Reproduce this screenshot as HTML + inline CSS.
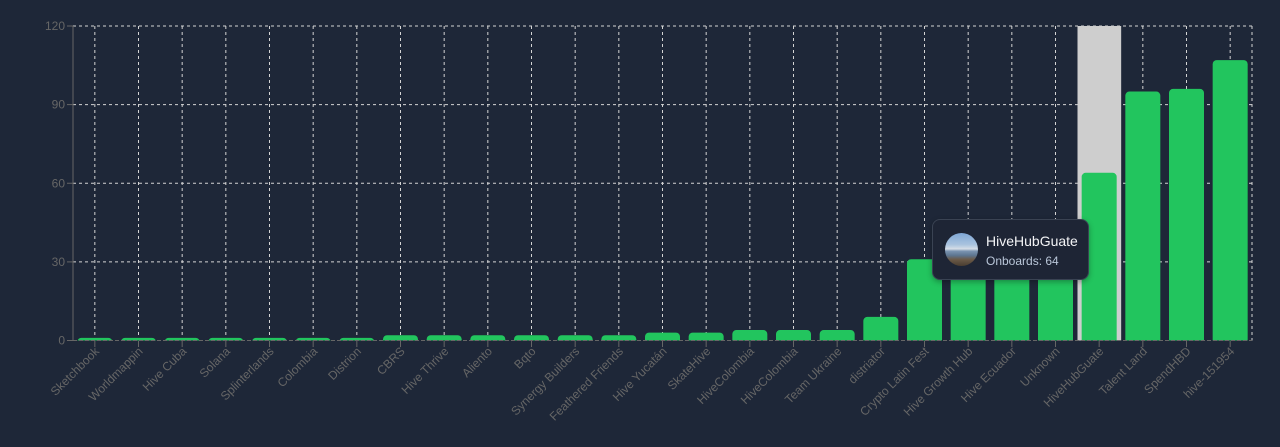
<!DOCTYPE html>
<html><head><meta charset="utf-8">
<style>
html,body{margin:0;padding:0;background:#1e2738;}
body{width:1280px;height:447px;position:relative;overflow:hidden;font-family:"Liberation Sans",sans-serif;}
svg{position:absolute;left:0;top:0;}
.tip{position:absolute;left:932px;top:219px;width:155px;height:59px;background:#1e2535;border:1px solid #3a4353;border-radius:8px;box-shadow:0 2px 6px rgba(0,0,0,0.3);}
.av{position:absolute;left:12px;top:13px;width:33px;height:33px;border-radius:50%;background:linear-gradient(180deg,#7fa7d6 0%,#a9c3de 35%,#d5dde6 48%,#7a93b0 55%,#5d7590 68%,#6b5a48 80%,#4a3d30 100%);}
.t1{position:absolute;left:53px;top:13px;color:#f3f4f6;font-size:14px;line-height:16px;}
.t2{position:absolute;left:53px;top:34px;color:#b9c6d8;font-size:12px;line-height:14px;}
</style></head><body>
<svg width="1280" height="447" viewBox="0 0 1280 447">
<defs><clipPath id="pc"><rect x="73" y="0" width="1180" height="340.5"/></clipPath></defs>
<g stroke="#d4d4d4" stroke-dasharray="3 3" stroke-width="1" fill="none">
<line x1="73" y1="26" x2="1252" y2="26"/>
<line x1="73" y1="104.6" x2="1252" y2="104.6"/>
<line x1="73" y1="183.25" x2="1252" y2="183.25"/>
<line x1="73" y1="261.9" x2="1252" y2="261.9"/>
<line x1="73" y1="340.5" x2="1252" y2="340.5"/>
<line x1="94.83" y1="26" x2="94.83" y2="340.5"/><line x1="138.5" y1="26" x2="138.5" y2="340.5"/><line x1="182.17" y1="26" x2="182.17" y2="340.5"/><line x1="225.83" y1="26" x2="225.83" y2="340.5"/><line x1="269.5" y1="26" x2="269.5" y2="340.5"/><line x1="313.17" y1="26" x2="313.17" y2="340.5"/><line x1="356.83" y1="26" x2="356.83" y2="340.5"/><line x1="400.5" y1="26" x2="400.5" y2="340.5"/><line x1="444.17" y1="26" x2="444.17" y2="340.5"/><line x1="487.83" y1="26" x2="487.83" y2="340.5"/><line x1="531.5" y1="26" x2="531.5" y2="340.5"/><line x1="575.17" y1="26" x2="575.17" y2="340.5"/><line x1="618.83" y1="26" x2="618.83" y2="340.5"/><line x1="662.5" y1="26" x2="662.5" y2="340.5"/><line x1="706.17" y1="26" x2="706.17" y2="340.5"/><line x1="749.83" y1="26" x2="749.83" y2="340.5"/><line x1="793.5" y1="26" x2="793.5" y2="340.5"/><line x1="837.17" y1="26" x2="837.17" y2="340.5"/><line x1="880.83" y1="26" x2="880.83" y2="340.5"/><line x1="924.5" y1="26" x2="924.5" y2="340.5"/><line x1="968.17" y1="26" x2="968.17" y2="340.5"/><line x1="1011.83" y1="26" x2="1011.83" y2="340.5"/><line x1="1055.5" y1="26" x2="1055.5" y2="340.5"/><line x1="1099.17" y1="26" x2="1099.17" y2="340.5"/><line x1="1142.83" y1="26" x2="1142.83" y2="340.5"/><line x1="1186.5" y1="26" x2="1186.5" y2="340.5"/><line x1="1230.17" y1="26" x2="1230.17" y2="340.5"/>
<line x1="1252" y1="26" x2="1252" y2="340.5"/>
</g>
<rect x="1077.5" y="26" width="43.67" height="314.5" fill="#cecece"/>
<g fill="#22c55e" clip-path="url(#pc)">
<rect x="77.33" y="337.88" width="35" height="10" rx="4"/>
<rect x="121" y="337.88" width="35" height="10" rx="4"/>
<rect x="164.67" y="337.88" width="35" height="10" rx="4"/>
<rect x="208.33" y="337.88" width="35" height="10" rx="4"/>
<rect x="252" y="337.88" width="35" height="10" rx="4"/>
<rect x="295.67" y="337.88" width="35" height="10" rx="4"/>
<rect x="339.33" y="337.88" width="35" height="10" rx="4"/>
<rect x="383" y="335.26" width="35" height="12" rx="4"/>
<rect x="426.67" y="335.26" width="35" height="12" rx="4"/>
<rect x="470.33" y="335.26" width="35" height="12" rx="4"/>
<rect x="514" y="335.26" width="35" height="12" rx="4"/>
<rect x="557.67" y="335.26" width="35" height="12" rx="4"/>
<rect x="601.33" y="335.26" width="35" height="12" rx="4"/>
<rect x="645" y="332.64" width="35" height="14" rx="4"/>
<rect x="688.67" y="332.64" width="35" height="14" rx="4"/>
<rect x="732.33" y="330.02" width="35" height="16" rx="4"/>
<rect x="776" y="330.02" width="35" height="16" rx="4"/>
<rect x="819.67" y="330.02" width="35" height="16" rx="4"/>
<rect x="863.33" y="316.91" width="35" height="30" rx="4"/>
<rect x="907" y="259.25" width="35" height="90" rx="4"/>
<rect x="950.67" y="251.4" width="35" height="95" rx="4"/>
<rect x="994.33" y="246.15" width="35" height="100" rx="4"/>
<rect x="1038" y="235.67" width="35" height="110" rx="4"/>
<rect x="1081.67" y="172.77" width="35" height="175" rx="4"/>
<rect x="1125.33" y="91.52" width="35" height="255" rx="4"/>
<rect x="1169" y="88.9" width="35" height="257" rx="4"/>
<rect x="1212.67" y="60.07" width="35" height="286" rx="4"/>
</g>
<g stroke="#666" stroke-width="1">
<line x1="73" y1="26" x2="73" y2="340.5"/>
<line x1="73" y1="340.5" x2="1252" y2="340.5" stroke-dasharray="4 2"/>
<line x1="67" y1="26" x2="73" y2="26"/><line x1="67" y1="104.6" x2="73" y2="104.6"/><line x1="67" y1="183.25" x2="73" y2="183.25"/><line x1="67" y1="261.9" x2="73" y2="261.9"/><line x1="67" y1="340.5" x2="73" y2="340.5"/>
<line x1="94.83" y1="341" x2="94.83" y2="347"/><line x1="138.5" y1="341" x2="138.5" y2="347"/><line x1="182.17" y1="341" x2="182.17" y2="347"/><line x1="225.83" y1="341" x2="225.83" y2="347"/><line x1="269.5" y1="341" x2="269.5" y2="347"/><line x1="313.17" y1="341" x2="313.17" y2="347"/><line x1="356.83" y1="341" x2="356.83" y2="347"/><line x1="400.5" y1="341" x2="400.5" y2="347"/><line x1="444.17" y1="341" x2="444.17" y2="347"/><line x1="487.83" y1="341" x2="487.83" y2="347"/><line x1="531.5" y1="341" x2="531.5" y2="347"/><line x1="575.17" y1="341" x2="575.17" y2="347"/><line x1="618.83" y1="341" x2="618.83" y2="347"/><line x1="662.5" y1="341" x2="662.5" y2="347"/><line x1="706.17" y1="341" x2="706.17" y2="347"/><line x1="749.83" y1="341" x2="749.83" y2="347"/><line x1="793.5" y1="341" x2="793.5" y2="347"/><line x1="837.17" y1="341" x2="837.17" y2="347"/><line x1="880.83" y1="341" x2="880.83" y2="347"/><line x1="924.5" y1="341" x2="924.5" y2="347"/><line x1="968.17" y1="341" x2="968.17" y2="347"/><line x1="1011.83" y1="341" x2="1011.83" y2="347"/><line x1="1055.5" y1="341" x2="1055.5" y2="347"/><line x1="1099.17" y1="341" x2="1099.17" y2="347"/><line x1="1142.83" y1="341" x2="1142.83" y2="347"/><line x1="1186.5" y1="341" x2="1186.5" y2="347"/><line x1="1230.17" y1="341" x2="1230.17" y2="347"/>
</g>
<g fill="#666" font-family="Liberation Sans, sans-serif" font-size="12" text-anchor="end">
<text x="65" y="30">120</text>
<text x="65" y="108.6">90</text>
<text x="65" y="187.25">60</text>
<text x="65" y="265.9">30</text>
<text x="65" y="344.5">0</text>
</g>
<g fill="#666" font-family="Liberation Sans, sans-serif" font-size="12" text-anchor="end">
<text transform="translate(99.83,352) rotate(-45)">Sketchbook</text>
<text transform="translate(143.5,352) rotate(-45)">Worldmappin</text>
<text transform="translate(187.17,352) rotate(-45)">Hive Cuba</text>
<text transform="translate(230.83,352) rotate(-45)">Solana</text>
<text transform="translate(274.5,352) rotate(-45)">Splinterlands</text>
<text transform="translate(318.17,352) rotate(-45)">Colombia</text>
<text transform="translate(361.83,352) rotate(-45)">Distrion</text>
<text transform="translate(405.5,352) rotate(-45)">CBRS</text>
<text transform="translate(449.17,352) rotate(-45)">Hive Thrive</text>
<text transform="translate(492.83,352) rotate(-45)">Aliento</text>
<text transform="translate(536.5,352) rotate(-45)">Bqto</text>
<text transform="translate(580.17,352) rotate(-45)">Synergy Builders</text>
<text transform="translate(623.83,352) rotate(-45)">Feathered Friends</text>
<text transform="translate(667.5,352) rotate(-45)">Hive Yucatán</text>
<text transform="translate(711.17,352) rotate(-45)">SkateHive</text>
<text transform="translate(754.83,352) rotate(-45)">HiveColombia</text>
<text transform="translate(798.5,352) rotate(-45)">HiveColombia</text>
<text transform="translate(842.17,352) rotate(-45)">Team Ukraine</text>
<text transform="translate(885.83,352) rotate(-45)">distriator</text>
<text transform="translate(929.5,352) rotate(-45)">Crypto Latin Fest</text>
<text transform="translate(973.17,352) rotate(-45)">Hive Growth Hub</text>
<text transform="translate(1016.83,352) rotate(-45)">Hive Ecuador</text>
<text transform="translate(1060.5,352) rotate(-45)">Unknown</text>
<text transform="translate(1104.17,352) rotate(-45)">HiveHubGuate</text>
<text transform="translate(1147.83,352) rotate(-45)">Talent Land</text>
<text transform="translate(1191.5,352) rotate(-45)">SpendHBD</text>
<text transform="translate(1235.17,352) rotate(-45)">hive-151954</text>
</g>
</svg>
<div class="tip">
<div class="av"></div>
<div class="t1">HiveHubGuate</div>
<div class="t2">Onboards: 64</div>
</div>
</body></html>
